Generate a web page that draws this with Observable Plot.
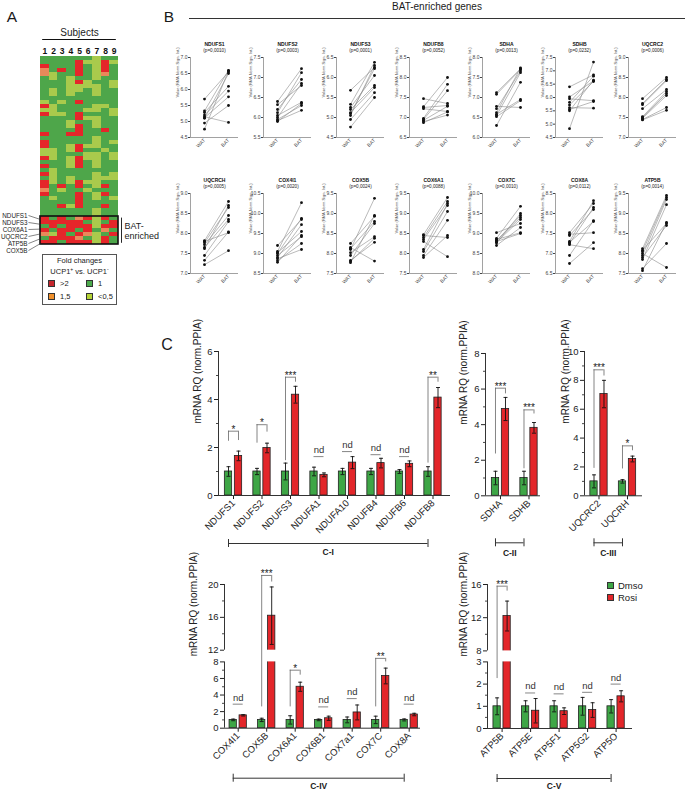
<!DOCTYPE html>
<html>
<head>
<meta charset="utf-8">
<script src="https://cdn.jsdelivr.net/npm/d3@7"></script>
<script src="https://cdn.jsdelivr.net/npm/@observablehq/plot@0.6"></script>
<style>
  html, body { margin: 0; padding: 0; background: #fff; }
  #root { position: relative; width: 687px; height: 793px; overflow: hidden; background: #fff;
          font-family: "Liberation Sans", Arial, Helvetica, sans-serif; color: #1a1a1a; }
  #root svg { position: absolute; overflow: visible; }
  .t { position: absolute; white-space: nowrap; line-height: 1; }
  .sw { position: absolute; box-sizing: border-box; border: 1px solid #333; }
</style>
</head>
<body>
<div id="root"></div>
<script>
// ================= DATA =================
// ---- Panel A: heatmap (fold changes UCP1+ vs UCP1-) ----
const subjects = ["1", "2", "3", "4", "5", "6", "7", "8", "9"];
const foldLevels = ["R", "O", "G", "L"];            // >2, 1,5, 1, <0,5
const foldLabels = [">2", "1,5", "1", "<0,5"];
// one string per subject column, one letter per gene row (top to bottom)
const heatmapColumns = [
  "GGROOGGGGG" + "GLRLRGGGGR" + "GRRLLRGRGR" + "GRRORGGGGG" + "RRGROGR",
  "GGGGLLGGLL" + "GGLLLGGGGG" + "GGGLLLGGLL" + "LLGGGLGGGG" + "GRRGLRR",
  "GGGRGGGGGG" + "GLGGLGGGGG" + "GGGGGGGGGG" + "GGRLGGGRGG" + "RRGRRRG",
  "GGGGGLLLLL" + "GGGGGGLLGR" + "GGLLGLLLGG" + "LLGGGGGLGG" + "GRRRGRR",
  "GRRRRGRLLG" + "GRGGRRGRRR" + "GGRRGRRRGG" + "GRRGRRRRGG" + "ORRGROR",
  "GLGGGGLLGG" + "GGGLGLGGGG" + "GGLGLLGGGG" + "GLGLGGGGGG" + "RGRROGR",
  "LLLLLLGLLL" + "GGLLGLLLGG" + "LLLGLLLLGL" + "LLLGLLGGLL" + "LLLGLLL",
  "GRRROGGGGG" + "GGLGGGGGRG" + "GGGLGGGGGG" + "LGRGRGGRGG" + "RGROGRR",
  "GLGGGGLLGG" + "GGGLLGGGGG" + "GLGGLLGGGL" + "LGGGGLGGGG" + "GRRGRGG"
];
const batEnrichedRowCount = 7;
const batEnrichedLabels = ["NDUFS1", "NDUFS3", "COX6A1", "UQCRC2", "ATP5B", "COX5B"];

// ---- Panel B: BAT-enriched genes, paired WAT/BAT values ----
const bGenes = ["NDUFS1", "NDUFS2", "NDUFS3", "NDUFB8", "SDHA", "SDHB", "UQCRC2",
                "UQCRCH", "COX4I1", "COX5B", "COX6A1", "COX7C", "COX8A", "ATP5B"];
const bPvalues = ["0,0010", "0,0003", "0,0001", "0,0052", "0,0013", "0,0232", "0,0006",
                  "0,0005", "0,0020", "0,0024", "0,0088", "0,0010", "0,0112", "0,0014"];
const bYDomains = [[4.5, 7.0], [5.5, 7.5], [4.5, 6.5], [6.5, 8.5], [6.0, 8.0], [4.5, 7.5], [7.0, 9.0],
                   [7.0, 9.0], [8.5, 10.5], [7.5, 9.5], [7.5, 9.5], [8.0, 10.0], [6.5, 8.5], [7.5, 9.5]];
const bWAT = [
  [5.70, 5.33, 5.28, 5.20, 5.15, 5.12, 5.10, 4.95, 4.76],
  [6.40, 6.32, 6.20, 6.12, 6.05, 6.00, 5.95, 5.92, 5.90],
  [5.68, 5.33, 5.25, 5.20, 5.12, 5.05, 4.95, 4.76, 5.10],
  [7.47, 7.27, 7.25, 7.22, 6.98, 6.95, 6.93, 6.90, 6.87],
  [7.12, 7.08, 6.78, 6.72, 6.62, 6.58, 6.55, 6.52, 6.30],
  [6.40, 6.02, 5.95, 5.82, 5.72, 5.62, 5.55, 5.50, 4.83],
  [7.97, 7.85, 7.82, 7.72, 7.52, 7.50, 7.48, 7.45, 7.44],
  [7.82, 7.80, 7.77, 7.72, 7.65, 7.62, 7.45, 7.33, 7.22],
  [9.20, 9.05, 9.02, 9.00, 8.95, 8.90, 8.87, 8.82, 8.78],
  [8.25, 8.15, 8.12, 8.10, 8.02, 7.95, 7.83, 7.80, 7.77],
  [8.47, 8.45, 8.40, 8.35, 8.30, 8.10, 8.05, 7.95, 7.90],
  [9.02, 8.88, 8.85, 8.82, 8.82, 8.80, 8.78, 8.76, 8.70],
  [7.52, 7.48, 7.45, 7.30, 7.28, 7.25, 7.22, 6.95, 6.75],
  [8.12, 8.08, 8.05, 8.00, 7.95, 7.90, 7.85, 7.62, 7.57]
];
const bBAT = [
  [6.55, 6.60, 6.10, 5.95, 4.97, 5.77, 6.50, 5.50, 6.58],
  [7.22, 6.80, 6.95, 7.12, 6.38, 6.85, 6.30, 6.18, 6.35],
  [6.25, 6.38, 6.05, 5.80, 5.75, 6.30, 5.62, 5.50, 6.22],
  [7.35, 8.00, 7.30, 7.15, 7.83, 7.67, 7.28, 7.06, 7.14],
  [7.72, 7.70, 6.75, 7.66, 7.74, 6.95, 7.62, 6.92, 7.38],
  [6.85, 6.62, 5.88, 6.80, 6.60, 5.60, 5.85, 6.65, 7.33],
  [8.50, 8.45, 8.42, 8.20, 8.15, 8.10, 8.05, 7.75, 7.68],
  [8.80, 8.02, 8.65, 8.45, 8.35, 8.70, 8.30, 8.04, 7.57],
  [9.85, 10.27, 9.55, 9.88, 9.42, 9.72, 9.10, 9.25, 9.45],
  [8.93, 7.81, 8.80, 9.38, 8.42, 8.75, 8.28, 8.38, 8.95],
  [9.40, 8.40, 9.30, 9.20, 7.92, 9.25, 9.05, 8.83, 8.45],
  [9.25, 9.68, 9.02, 9.45, 9.40, 9.00, 9.35, 9.50, 9.15],
  [8.25, 7.52, 8.10, 8.32, 7.80, 8.15, 7.12, 7.82, 7.27],
  [9.45, 8.75, 9.40, 7.65, 9.35, 8.70, 9.22, 8.25, 8.78]
];

// ---- Panel C: mRNA RQ (norm. PPIA), Dmso vs Rosi ----
const treatments = ["Dmso", "Rosi"];
// C-I
const c1Genes = ["NDUFS1", "NDUFS2", "NDUFS3", "NDUFA1", "NDUFA10", "NDUFB4", "NDUFB6", "NDUFB8"];
const c1Dmso = [1, 1, 1, 1, 1, 1, 1, 1];
const c1DmsoErr = [0.20, 0.13, 0.35, 0.18, 0.13, 0.13, 0.08, 0.20];
const c1Rosi = [1.65, 1.98, 4.20, 0.86, 1.37, 1.35, 1.32, 4.08];
const c1RosiErr = [0.20, 0.20, 0.35, 0.08, 0.25, 0.20, 0.12, 0.42];
const c1Sig = ["*", "*", "***", "nd", "nd", "nd", "nd", "**"];
const c1AnnH = [2.68, 2.95, 4.93, 1.62, 1.83, 1.70, 1.62, 4.93];
const c1AnnLeft = [2.26, 2.18, 1.45, null, null, null, null, 1.35];
const c1AnnRight = [2.29, 2.64, 4.72, null, null, null, null, 4.72];
const c1YTicks = [0, 2, 4, 6];
const c1YMinor = [1, 3, 5];
// C-II
const c2Genes = ["SDHA", "SDHB"];
const c2Dmso = [1, 1];
const c2DmsoErr = [0.38, 0.38];
const c2Rosi = [4.88, 3.82];
const c2RosiErr = [0.65, 0.30];
const c2Sig = ["***", "***"];
const c2AnnH = [6.05, 4.83];
const c2AnnLeft = [2.35, 1.52];
const c2AnnRight = [5.73, 4.60];
const c2YTicks = [0, 2, 4, 6, 8];
const c2YMinor = [1, 3, 5, 7];
// C-III
const c3Genes = ["UQCRC2", "UQCRH"];
const c3Dmso = [1, 1];
const c3DmsoErr = [0.45, 0.12];
const c3Rosi = [7.05, 2.55];
const c3RosiErr = [0.95, 0.20];
const c3Sig = ["***", "*"];
const c3AnnH = [8.73, 3.46];
const c3AnnLeft = [1.90, 1.86];
const c3AnnRight = [8.30, 3.12];
const c3YTicks = [0, 2, 4, 6, 8, 10];
const c3YMinor = [1, 3, 5, 7, 9];
// C-IV (broken axis 8 -> 12)
const c4Genes = ["COX4I1", "COX5B", "COX6A1", "COX6B1", "COX7a1", "COX7C", "COX8A"];
const c4Dmso = [1, 1, 1, 1, 1, 1, 1];
const c4DmsoErr = [0.10, 0.20, 0.50, 0.10, 0.35, 0.45, 0.12];
const c4Rosi = [1.55, 16.2, 5.0, 1.2, 1.9, 6.3, 1.65];
const c4RosiErr = [0.08, 3.5, 0.55, 0.25, 0.9, 0.95, 0.15];
const c4Sig = ["nd", "***", "*", "nd", "nd", "**", "nd"];
const c4AnnH = [2.9, 21.1, 7.0, 2.57, 3.57, 9.2, 2.9];
const c4AnnLeft = [null, 2.57, 2.57, null, null, 2.57, null];
const c4AnnRight = [null, 20.3, 6.4, null, null, 8.0, null];
const c4YTicks = [0, 2, 4, 6, 8, 12, 16, 20];
const c4YMinor = [1, 3, 5, 7, 14, 18];
const c4Break = [8, 12];
// C-V (broken axis 3 -> 8)
const c5Genes = ["ATP5B", "ATP5E", "ATP5F1", "ATP5G2", "ATP5O"];
const c5Dmso = [1, 1, 1, 1, 1];
const c5DmsoErr = [0.38, 0.25, 0.25, 0.40, 0.30];
const c5Rosi = [12.2, 0.80, 0.78, 0.83, 1.45];
const c5RosiErr = [1.8, 0.55, 0.15, 0.33, 0.25];
const c5Sig = ["***", "nd", "nd", "nd", "nd"];
const c5AnnH = [15.8, 1.60, 1.56, 1.63, 2.0];
const c5AnnLeft = [2.25, null, null, null, null];
const c5AnnRight = [15.2, null, null, null, null];
const c5YTicks = [0, 1, 2, 3, 8, 12, 16];
const c5YMinor = [0.5, 1.5, 2.5, 10, 14];
const c5Break = [3, 8];

// ================= RENDERING =================
const FONT = '"Liberation Sans", Arial, Helvetica, sans-serif';
const root = document.getElementById("root");
const heatColors = ["#e5262a", "#e9895a", "#4ea64a", "#a9ca4c"];
const legendColors = ["#c6262d", "#f0902c", "#4caa4c", "#b5d336"];
const barColors = ["#3ea646", "#e3262a"];

function mount(svg, left, top) {
  svg.style.position = "absolute";
  svg.style.left = left + "px";
  svg.style.top = top + "px";
  root.appendChild(svg);
}
function baseStyle(size) {
  return {background: "transparent", fontFamily: FONT, fontSize: size + "px", color: "#222", overflow: "visible"};
}
function txt(html, x, y, size, opts = {}) {
  const d = document.createElement("div");
  d.className = "t";
  d.innerHTML = html;
  d.style.fontSize = size + "px";
  if (opts.weight) d.style.fontWeight = opts.weight;
  d.style.left = x + "px";
  d.style.top = y + "px";
  const ax = opts.anchor === "start" ? "0" : opts.anchor === "end" ? "-100%" : "-50%";
  d.style.transform = `translate(${ax}, -50%)`;
  root.appendChild(d);
  return d;
}
function box(x, y, w, h, css) {
  const d = document.createElement("div");
  d.className = "sw";
  Object.assign(d.style, {left: x + "px", top: y + "px", width: w + "px", height: h + "px"}, css);
  root.appendChild(d);
}

// ---------- Panel letters & headers ----------
txt("A", 12, 17, 15.5);
txt("B", 169, 17, 15.5);
txt("C", 167, 345, 16);
txt("BAT-enriched genes", 437, 7, 10);
box(189, 18, 496, 0, {border: "none", borderTop: "1.5px solid #333"});

// ---------- Panel A ----------
{
  const nRows = heatmapColumns[0].length;
  const nCols = subjects.length;
  const cells = heatmapColumns.flatMap((col, c) => Array.from(col, (k, r) => ({c, r, k})));
  const boxTop = nRows - batEnrichedRowCount;
  const left = 0, top = 20, fx0 = 40, fx1 = 118, fy0 = 56, fy1 = 244;
  const ml = fx0 - left, mt = fy0 - top, mr = 52, mb = 14;
  const pxCol = (fx1 - fx0) / nCols, pxRow = (fy1 - fy0) / nRows;
  const colAt = px => (px - fx0) / pxCol;
  const rowAt = py => (py - fy0) / pxRow;
  const labels = batEnrichedLabels.map((g, i) => ({g, ly: rowAt(215) + i * 1.75, ty: boxTop + 0.75 + i * 1.2}));
  const svg = Plot.plot({
    width: ml + (fx1 - fx0) + mr, height: mt + (fy1 - fy0) + mb,
    marginLeft: ml, marginTop: mt, marginRight: mr, marginBottom: mb,
    style: baseStyle(8),
    x: {domain: [0, nCols], axis: null},
    y: {domain: [0, nRows], reverse: true, axis: null},
    color: {type: "ordinal", domain: foldLevels, range: heatColors},
    marks: [
      Plot.rect(cells, {x1: "c", x2: d => d.c + 1, y1: "r", y2: d => d.r + 1, fill: "k", shapeRendering: "crispEdges"}),
      Plot.rect([batEnrichedRowCount], {x1: () => 0, x2: () => nCols, y1: () => boxTop, y2: () => nRows,
        fill: "none", stroke: "#111", strokeWidth: 1.6}),
      Plot.text(subjects, {x: (d, i) => i + 0.5, y: () => 0, dy: -3, lineAnchor: "bottom",
        fontWeight: "bold", fontSize: 8.5, text: d => d, fill: "#111"}),
      Plot.text(["Subjects"], {x: () => nCols / 2, y: () => 0, dy: -24, fontSize: 10, text: d => d, fill: "#222"}),
      Plot.ruleY([0], {x1: () => 0.25, x2: () => nCols - 0.25, dy: -17, stroke: "#111", strokeWidth: 1}),
      Plot.link(labels, {x1: () => colAt(28), y1: "ly", x2: () => 0, y2: "ty", stroke: "#333", strokeWidth: 0.6}),
      Plot.text(labels, {x: () => colAt(27), y: "ly", text: "g", textAnchor: "end", fontSize: 6.3, fill: "#222"}),
      Plot.ruleX([0], {x: () => colAt(121), y1: () => boxTop + 0.4, y2: () => nRows - 0.3, stroke: "#111", strokeWidth: 0.9}),
      Plot.text(["BAT-", "enriched"], {x: () => colAt(124), y: (d, i) => rowAt(226 + 10 * i), textAnchor: "start",
        fontSize: 9, text: d => d, fill: "#222"})
    ]
  });
  mount(svg, left, top);

  // legend box
  box(42, 254, 75, 51, {border: "1px solid #555"});
  txt("Fold changes", 79.5, 261, 7.5);
  txt("UCP1<sup style='font-size:5px'>+</sup> vs. UCP1<sup style='font-size:5px'>-</sup>", 79.5, 270.5, 7.5);
  const pos = [[48, 280], [48, 293], [86, 280], [86, 293]];
  foldLabels.forEach((lab, i) => {
    const [x, y] = pos[i];
    box(x, y, 7, 7, {background: legendColors[i]});
    txt(lab, x + 12, y + 3.5, 7.5, {anchor: "start"});
  });
}

// ---------- Panel B ----------
bGenes.forEach((g, i) => {
  const row = Math.floor(i / 7), col = i % 7;
  const X0 = 190 + 73 * col, Y0 = 57 + 136 * row;
  const fw = 48, fh = 80, ml = 30, mt = 22, mr = 4, mb = 24;
  const xu = 24;
  const xDom = [-14 / xu, (fw - 14) / xu];
  const [lo, hi] = bYDomains[i];
  const pairs = bWAT[i].map((w, j) => ({w, b: bBAT[i][j]}));
  const svg = Plot.plot({
    width: ml + fw + mr, height: mt + fh + mb,
    marginLeft: ml, marginTop: mt, marginRight: mr, marginBottom: mb,
    style: Object.assign(baseStyle(5), {color: "#444"}),
    x: {domain: xDom, ticks: [0, 1], tickFormat: d => (d === 0 ? "WAT" : "BAT"), tickRotate: -45,
        tickSize: 0, tickPadding: 2, label: null},
    y: {domain: [lo, hi], ticks: d3.range(lo, hi + 1e-6, 0.5), tickFormat: d3.format(".1f"),
        tickSize: 2, tickPadding: 1, label: null},
    marks: [
      Plot.ruleY([lo], {stroke: "#8a8a8a", strokeWidth: 0.8}),
      Plot.ruleX([xDom[0]], {stroke: "#8a8a8a", strokeWidth: 0.8}),
      Plot.link(pairs, {x1: () => 0, x2: () => 1, y1: "w", y2: "b", stroke: "#8c8c8c", strokeWidth: 0.6}),
      Plot.dot(pairs, {x: () => 0, y: "w", r: 1.4, fill: "#111"}),
      Plot.dot(pairs, {x: () => 1, y: "b", r: 1.4, fill: "#111"}),
      Plot.text([g], {frameAnchor: "top", dy: -15, fontWeight: "bold", fontSize: 5, text: d => d, fill: "#111"}),
      Plot.text([`(p=${bPvalues[i]})`], {frameAnchor: "top", dy: -9, fontSize: 4.6, text: d => d, fill: "#222"}),
      Plot.text(["Value (RMA Norm.Sign. Int.)"], {frameAnchor: "left", rotate: -90, dx: -13, fontSize: 4,
        fill: "#555", text: d => d})
    ]
  });
  mount(svg, X0 - ml, Y0 - mt);
});

// ---------- Panel C ----------
function barPanel(cfg, L) {
  const U = 28.5, off = 5 / U, hw = 3.65 / U, cap = 2 / U;
  const n = cfg.genes.length;
  const ml = 42, mt = 34, mr = 8, mb = 72;
  const yTopPx = Math.min(...L.yPx), yBotPx = Math.max(...L.yPx);
  const svgLeft = L.axisX - ml, svgTop = yTopPx - mt;
  const width = ml + (L.endX - L.axisX) + mr, height = mt + (yBotPx - yTopPx) + mb;
  const xDom = [(L.axisX - L.firstCenter) / U, (L.endX - L.firstCenter) / U];
  // broken (piecewise) value axis -> continuous coordinate measured in lower-segment units
  const pw = d3.scaleLinear().domain(cfg.yDomain).range(L.yPx);
  const slopeLow = (L.yPx[0] - L.yPx[1]) / (cfg.yDomain[1] - cfg.yDomain[0]);
  const T = v => (L.yPx[0] - pw(v)) / slopeLow;
  const yMax = cfg.yDomain[cfg.yDomain.length - 1];
  const below = px => -px / slopeLow;
  const tickMap = new Map(cfg.yTicks.map(t => [T(t), t]));
  const bars = [];
  cfg.genes.forEach((g, i) => {
    bars.push({i, grp: treatments[0], xc: i - off, v: cfg.dmso[i], e: cfg.dmsoErr[i]});
    bars.push({i, grp: treatments[1], xc: i + off, v: cfg.rosi[i], e: cfg.rosiErr[i]});
  });
  const ann = cfg.genes.map((g, i) => ({i, s: cfg.sig[i], h: cfg.annH[i], l: cfg.annLeft[i], r: cfg.annRight[i]}));
  const sigAnn = ann.filter(d => d.s !== "nd"), ndAnn = ann.filter(d => d.s === "nd");
  const segs = cfg.brk ? [[0, cfg.brk[0]], [cfg.brk[1], yMax]] : [[0, yMax]];
  const axisStroke = "#333";
  const marks = [
    Plot.rect(bars, {x1: d => d.xc - hw, x2: d => d.xc + hw, y1: () => 0, y2: d => T(d.v), fill: "grp",
      stroke: "#222", strokeWidth: 0.8})
  ];
  if (cfg.brk) {
    marks.push(Plot.rect([cfg.brk], {x1: () => xDom[0], x2: () => xDom[1], y1: d => T(d[0]), y2: d => T(d[1]), fill: "white"}));
  }
  marks.push(
    Plot.ruleX(bars, {x: "xc", y1: d => T(d.v - d.e), y2: d => T(d.v + d.e), stroke: "#111", strokeWidth: 0.9}),
    Plot.link(bars, {x1: d => d.xc - cap, x2: d => d.xc + cap, y1: d => T(d.v + d.e), y2: d => T(d.v + d.e), stroke: "#111", strokeWidth: 0.9}),
    Plot.link(bars, {x1: d => d.xc - cap, x2: d => d.xc + cap, y1: d => T(d.v - d.e), y2: d => T(d.v - d.e), stroke: "#111", strokeWidth: 0.9}),
    Plot.ruleY([0], {stroke: axisStroke, strokeWidth: 1}),
    Plot.ruleX(segs, {x: () => xDom[0], y1: d => T(d[0]), y2: d => T(d[1]), stroke: axisStroke, strokeWidth: 1}),
    Plot.link(cfg.yMinor, {x1: () => xDom[0], x2: () => xDom[0] - 2.5 / U, y1: d => T(d), y2: d => T(d), stroke: axisStroke, strokeWidth: 0.9}),
    Plot.ruleX(sigAnn, {x: d => d.i - off, y1: d => T(d.l), y2: d => T(d.h), stroke: "#666", strokeWidth: 0.8}),
    Plot.ruleX(sigAnn, {x: d => d.i + off, y1: d => T(d.r), y2: d => T(d.h), stroke: "#666", strokeWidth: 0.8}),
    Plot.ruleY(ann, {y: d => T(d.h), x1: d => d.i - off, x2: d => d.i + off, stroke: "#666", strokeWidth: 0.8}),
    Plot.text(sigAnn, {x: "i", y: d => T(d.h), text: "s", lineAnchor: "bottom", dy: 1.5, fontSize: 10, fill: "#222"}),
    Plot.text(ndAnn, {x: "i", y: d => T(d.h), text: () => "nd", lineAnchor: "bottom", dy: -3.5, fontSize: 9.5, fill: "#333"}),
    Plot.ruleY([cfg.group], {y: () => below(L.bracketPx), x1: () => -off, x2: () => n - 1 - off, stroke: "#333", strokeWidth: 1}),
    Plot.ruleX([-off, n - 1 - off], {x: d => d, y1: () => below(L.bracketPx - 4), y2: () => below(L.bracketPx + 4), stroke: "#333", strokeWidth: 1}),
    Plot.text([cfg.group], {x: () => (n - 1) / 2 - off, y: () => below(L.groupLabelPx), text: d => d,
      fontWeight: "bold", fontSize: 8.5, fill: "#222"}),
    Plot.text(["mRNA RQ (norm.PPIA)"], {frameAnchor: "left", rotate: -90, dx: -(L.axisX - L.labelX), fontSize: 10,
      text: d => d, fill: "#222"})
  );
  const svg = Plot.plot({
    width, height, marginLeft: ml, marginTop: mt, marginRight: mr, marginBottom: mb,
    style: baseStyle(9.5),
    x: {domain: xDom, ticks: d3.range(n), tickFormat: i => cfg.genes[i], tickRotate: -45, tickSize: 4,
        tickPadding: 2, label: null},
    y: {domain: [0, T(yMax)], ticks: cfg.yTicks.map(T), tickFormat: v => String(tickMap.has(v) ? tickMap.get(v) : ""),
        tickSize: 4, tickPadding: 2, label: null},
    color: {type: "ordinal", domain: treatments, range: barColors},
    marks
  });
  mount(svg, svgLeft, svgTop);
}

barPanel({genes: c1Genes, dmso: c1Dmso, dmsoErr: c1DmsoErr, rosi: c1Rosi, rosiErr: c1RosiErr, sig: c1Sig,
          annH: c1AnnH, annLeft: c1AnnLeft, annRight: c1AnnRight, yDomain: [0, 6], yTicks: c1YTicks,
          yMinor: c1YMinor, group: "C-I"},
         {axisX: 218, firstCenter: 233, endX: 450, yPx: [495, 351], labelX: 197, bracketPx: 48, groupLabelPx: 57});
barPanel({genes: c2Genes, dmso: c2Dmso, dmsoErr: c2DmsoErr, rosi: c2Rosi, rosiErr: c2RosiErr, sig: c2Sig,
          annH: c2AnnH, annLeft: c2AnnLeft, annRight: c2AnnRight, yDomain: [0, 8], yTicks: c2YTicks,
          yMinor: c2YMinor, group: "C-II"},
         {axisX: 485, firstCenter: 500, endX: 540, yPx: [495, 352.7], labelX: 463, bracketPx: 47, groupLabelPx: 57});
barPanel({genes: c3Genes, dmso: c3Dmso, dmsoErr: c3DmsoErr, rosi: c3Rosi, rosiErr: c3RosiErr, sig: c3Sig,
          annH: c3AnnH, annLeft: c3AnnLeft, annRight: c3AnnRight, yDomain: [0, 10], yTicks: c3YTicks,
          yMinor: c3YMinor, group: "C-III"},
         {axisX: 584, firstCenter: 598.5, endX: 642, yPx: [495, 350.7], labelX: 565, bracketPx: 47, groupLabelPx: 57});
barPanel({genes: c4Genes, dmso: c4Dmso, dmsoErr: c4DmsoErr, rosi: c4Rosi, rosiErr: c4RosiErr, sig: c4Sig,
          annH: c4AnnH, annLeft: c4AnnLeft, annRight: c4AnnRight, yDomain: [0, c4Break[0], c4Break[1], 20],
          brk: c4Break, yTicks: c4YTicks, yMinor: c4YMinor, group: "C-IV"},
         {axisX: 224, firstCenter: 237.7, endX: 420, yPx: [728, 661.7, 650, 584.3], labelX: 193, bracketPx: 50, groupLabelPx: 58.5});
barPanel({genes: c5Genes, dmso: c5Dmso, dmsoErr: c5DmsoErr, rosi: c5Rosi, rosiErr: c5RosiErr, sig: c5Sig,
          annH: c5AnnH, annLeft: c5AnnLeft, annRight: c5AnnRight, yDomain: [0, c5Break[0], c5Break[1], 16],
          brk: c5Break, yTicks: c5YTicks, yMinor: c5YMinor, group: "C-V"},
         {axisX: 486.7, firstCenter: 501.3, endX: 631.7, yPx: [728.3, 661.7, 650.7, 584.3], labelX: 463, bracketPx: 50, groupLabelPx: 58});

// Panel C legend
treatments.forEach((t, i) => {
  box(607, 582 + 12 * i, 7, 7, {background: barColors[i]});
  txt(t, 618, 585.5 + 12 * i, 9.5, {anchor: "start"});
});
</script>
</body>
</html>
